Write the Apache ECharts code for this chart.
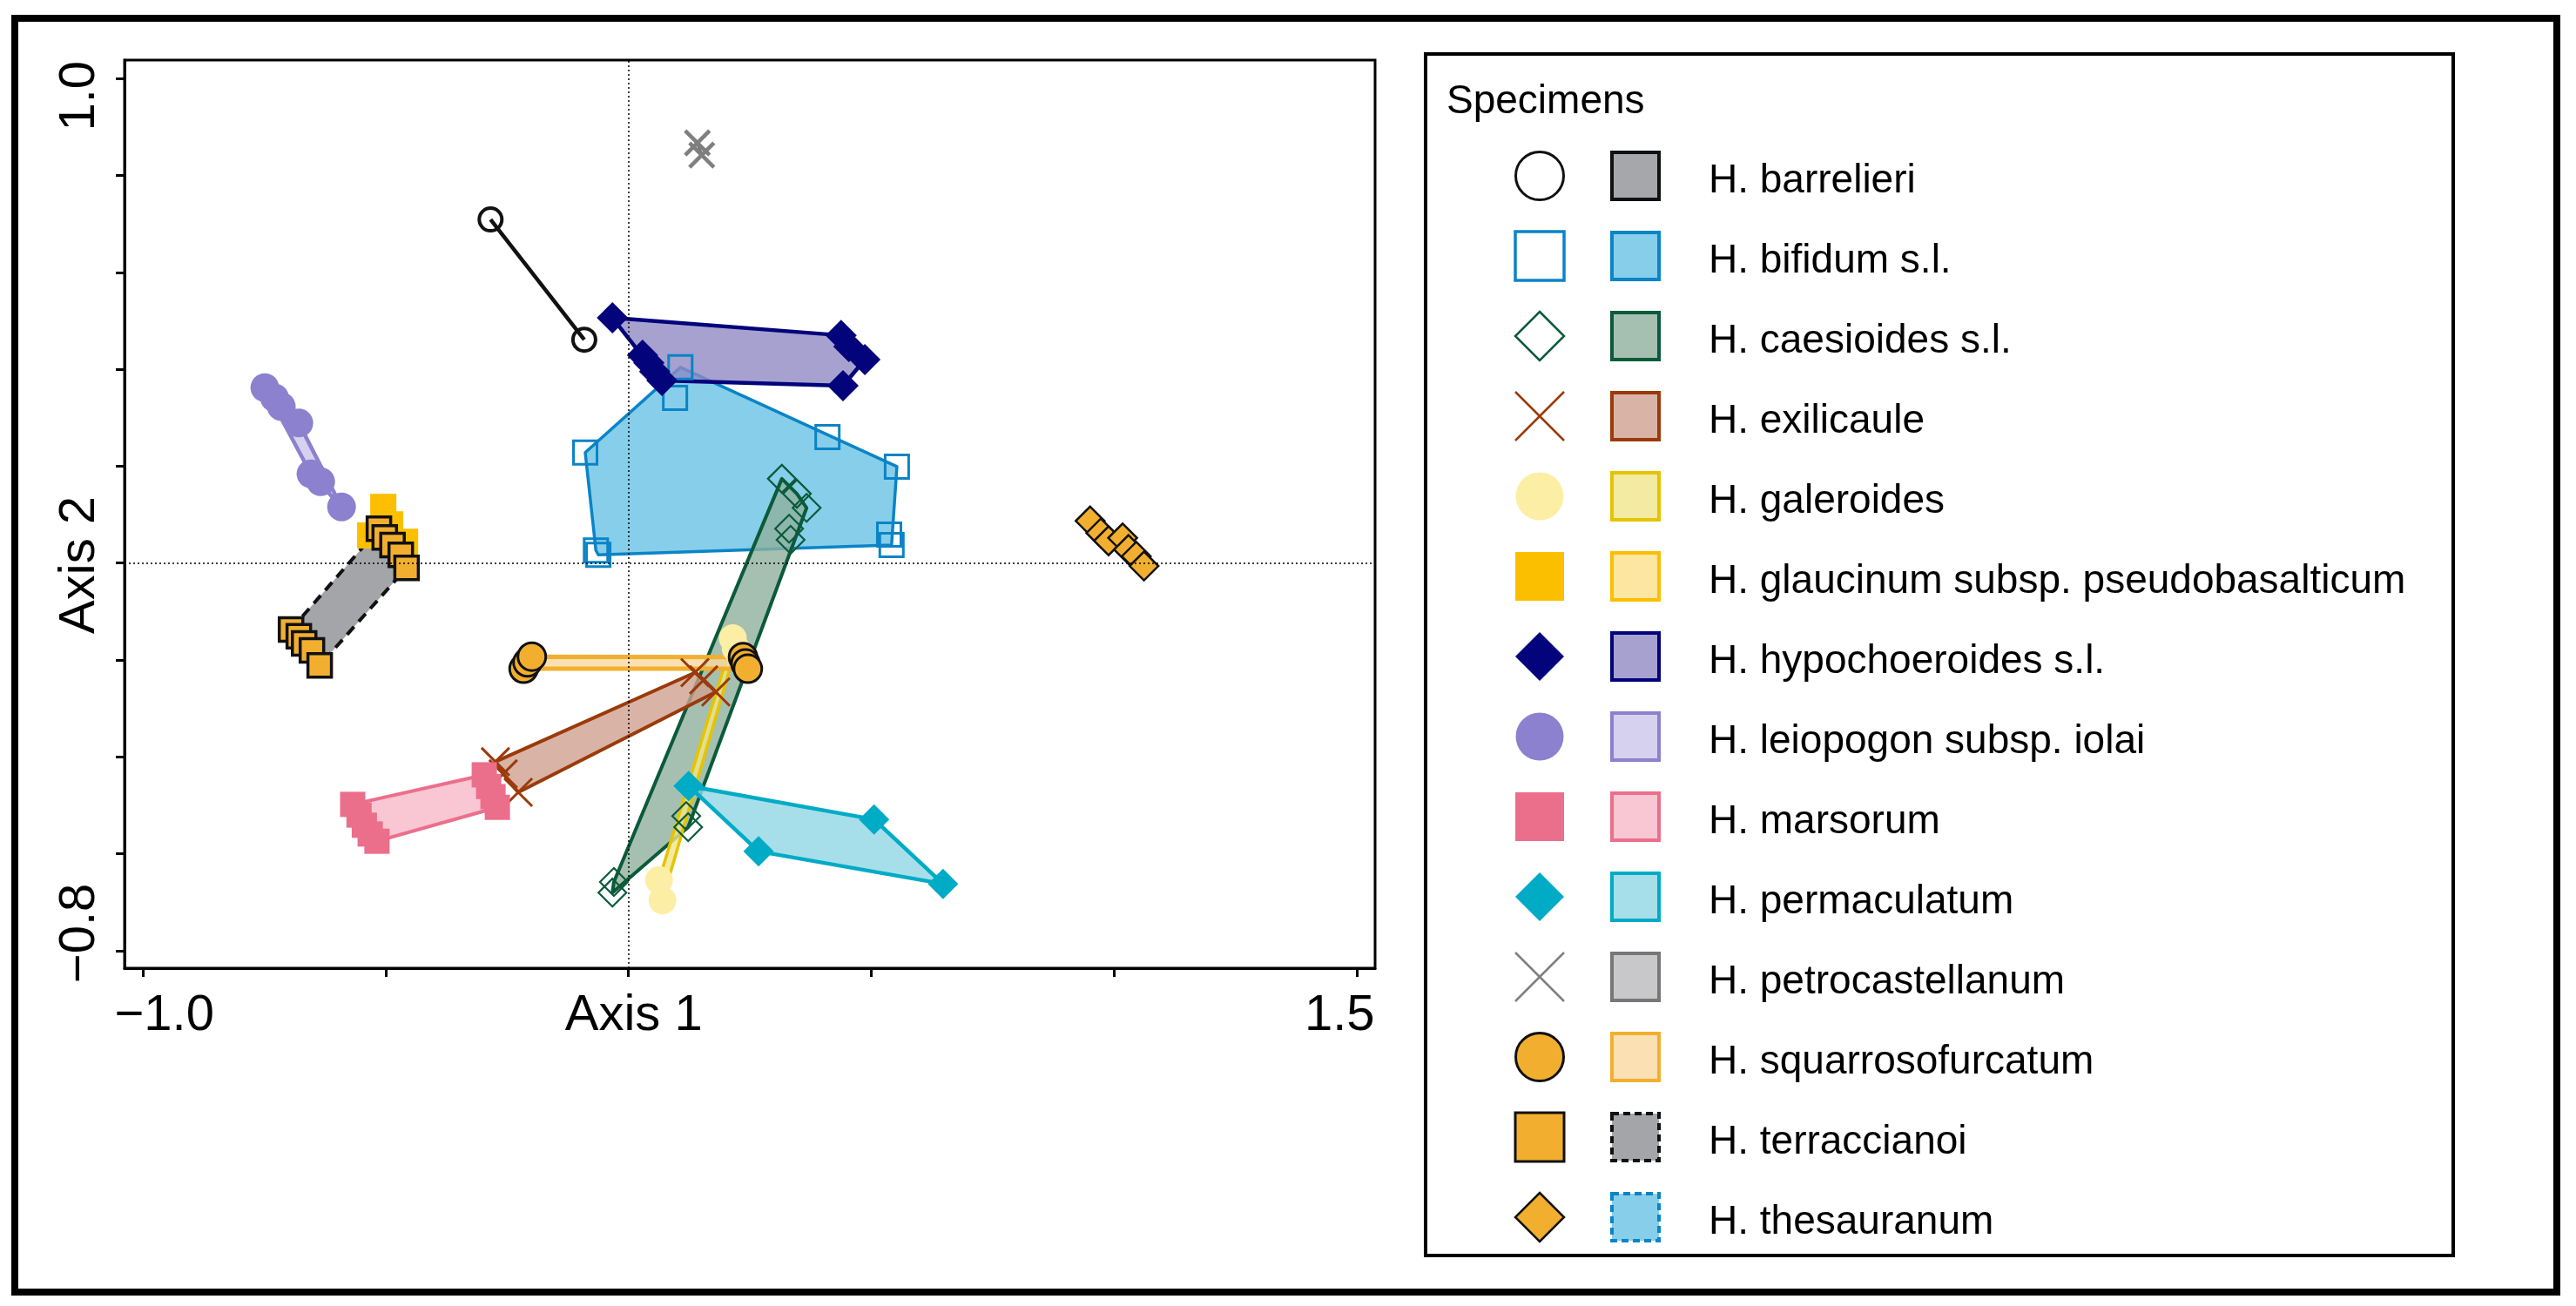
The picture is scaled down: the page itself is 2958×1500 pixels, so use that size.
<!DOCTYPE html>
<html>
<head>
<meta charset="utf-8">
<title>Specimens ordination</title>
<script src="https://cdn.jsdelivr.net/npm/echarts@6/dist/echarts.min.js"></script>
<style>html,body{margin:0;padding:0;background:#fff;}</style>
</head>
<body>
<div id="main" style="width:2958px;height:1500px;"></div>
<script type="text/javascript">
var FONT = "'Liberation Sans', Arial, sans-serif";

var species = ['H. barrelieri', 'H. bifidum s.l.', 'H. caesioides s.l.', 'H. exilicaule', 'H. galeroides',
  'H. glaucinum subsp. pseudobasalticum', 'H. hypochoeroides s.l.', 'H. leiopogon subsp. iolai', 'H. marsorum',
  'H. permaculatum', 'H. petrocastellanum', 'H. squarrosofurcatum', 'H. terraccianoi', 'H. thesauranum'];

// specimen scores [Axis 1, Axis 2]
var barrelieri = [[-0.284, 0.709], [-0.091, 0.461]];
var bifidum = [[-0.089, 0.228], [-0.067, 0.026], [-0.062, 0.017], [0.107, 0.404], [0.096, 0.341],
  [0.410, 0.260], [0.553, 0.199], [0.537, 0.059], [0.542, 0.037]];
var caesioides = [[0.316, 0.174], [0.347, 0.143], [0.367, 0.114], [0.331, 0.071], [0.334, 0.048],
  [0.119, -0.522], [0.123, -0.545], [-0.030, -0.658], [-0.033, -0.680]];
var exilicaule = [[0.137, -0.226], [0.155, -0.241], [0.180, -0.266], [-0.274, -0.410], [-0.258, -0.435], [-0.227, -0.473]];
var galeroides = [[0.215, -0.155], [0.221, -0.176], [0.063, -0.654], [0.070, -0.696]];
var glaucinum = [[-0.505, 0.116], [-0.532, 0.057], [-0.460, 0.044], [-0.491, 0.080]];
var hypochoeroides = [[-0.033, 0.506], [0.029, 0.429], [0.042, 0.413], [0.054, 0.395], [0.069, 0.377],
  [0.438, 0.470], [0.454, 0.447], [0.487, 0.420], [0.442, 0.366]];
var leiopogon = [[-0.749, 0.362], [-0.729, 0.341], [-0.715, 0.323], [-0.679, 0.289], [-0.654, 0.184],
  [-0.634, 0.168], [-0.591, 0.116]];
var marsorum = [[-0.568, -0.498], [-0.555, -0.520], [-0.544, -0.541], [-0.532, -0.559], [-0.518, -0.574],
  [-0.297, -0.437], [-0.288, -0.461], [-0.279, -0.482], [-0.270, -0.504]];
var permaculatum = [[0.124, -0.460], [0.506, -0.529], [0.268, -0.595], [0.648, -0.662]];
var petrocastellanum = [[0.142, 0.867], [0.151, 0.842]];
var squarrosofurcatum = [[-0.216, -0.218], [-0.208, -0.205], [-0.199, -0.193], [0.236, -0.194], [0.241, -0.207], [0.246, -0.218]];
var terraccianoi = [[-0.514, 0.071], [-0.502, 0.053], [-0.486, 0.037], [-0.469, 0.017], [-0.457, -0.010],
  [-0.695, -0.137], [-0.679, -0.151], [-0.668, -0.166], [-0.652, -0.180], [-0.636, -0.211]];
var thesauranum = [[0.951, 0.087], [0.973, 0.062], [0.989, 0.046], [1.018, 0.052], [1.030, 0.028], [1.046, 0.014], [1.062, -0.006]];

var scores = [barrelieri, bifidum, caesioides, exilicaule, galeroides, glaucinum, hypochoeroides,
  leiopogon, marsorum, permaculatum, petrocastellanum, squarrosofurcatum, terraccianoi, thesauranum];

// axis ticks and labels
var xTicks = [-1.0, -0.5, 0, 0.5, 1.0, 1.5];
var yTicks = [1.0, 0.8, 0.6, 0.4, 0.2, 0, -0.2, -0.4, -0.6, -0.8];
var xLabels = ['\u22121.0', 'Axis 1', '1.5'];
var xLabelAt = [-0.956, 0.011, 1.465];
var yLabels = ['1.0', 'Axis 2', '\u22120.8'];
var yLabelAt = [0.964, -0.004, -0.764];

// look of each species: point symbol, point fill/edge, hull fill/edge
var looks = [
  {sym: 'circle', fill: null, edge: '#111111', ew: 4, size: 26, lw: 3, hull: '#a5a7aa', hedge: '#111111', hw: 4.5},
  {sym: 'rect', fill: null, edge: '#0a84c6', ew: 3, size: 27, lw: 3.5, hull: '#87ceea', hedge: '#0a84c6'},
  {sym: 'diamond', fill: null, edge: '#0b5a3a', ew: 2.2, size: 32, lw: 2.5, hull: '#a5c0b1', hedge: '#0b5a3a', hw: 4},
  {sym: 'x', fill: null, edge: '#9b3a0a', ew: 3, size: 32, lw: 2.5, hull: '#d9b4a6', hedge: '#9b3a0a', hw: 4},
  {sym: 'circle', fill: '#fdeea5', edge: null, ew: 0, size: 32, lw: 0, hull: '#f3eba1', hedge: '#e6c300'},
  {sym: 'rect', fill: '#fbbf00', edge: null, ew: 0, size: 30, lw: 0, hull: '#fde6a0', hedge: '#fbbf00'},
  {sym: 'diamond', fill: '#03037b', edge: null, ew: 0, size: 36, lw: 0, hull: '#a6a1cf', hedge: '#03037b', hw: 4.5},
  {sym: 'circle', fill: '#8c81ce', edge: null, ew: 0, size: 33, lw: 0, hull: '#d6d1ee', hedge: '#8c81ce', hw: 4.5},
  {sym: 'rect', fill: '#eb6f8b', edge: null, ew: 0, size: 29, lw: 0, hull: '#f9c6d3', hedge: '#eb6f8b', hw: 4},
  {sym: 'diamond', fill: '#00abc6', edge: null, ew: 0, size: 35, lw: 0, hull: '#a6dfea', hedge: '#00abc6', hw: 4.5},
  {sym: 'x', fill: null, edge: '#7f7f7f', ew: 4.5, size: 28, lw: 2.5, hull: '#c8c8ca', hedge: '#777777'},
  {sym: 'circle', fill: '#f2af2f', edge: '#111111', ew: 3, size: 32, lw: 3, hull: '#fbe0b3', hedge: '#f2af2f', hw: 5},
  {sym: 'rect', fill: '#f2af2f', edge: '#111111', ew: 3.5, size: 27, lw: 3, hull: '#a3a5a8', hedge: '#111111', dash: true, hw: 4},
  {sym: 'diamond', fill: '#f2af2f', edge: '#111111', ew: 2.5, size: 33, lw: 2.5, hull: '#87ceea', hedge: '#0a84c6', dash: true}
];

var XPATH = 'path://M0,0L10,10M10,0L0,10';

function seeThrough(hex, a) {
  // base colour that gives `hex` when laid with alpha a over white
  var n = parseInt(hex.slice(1), 16);
  var c = [(n >> 16) & 255, (n >> 8) & 255, n & 255].map(function (v) {
    return Math.max(0, Math.round((v - 255 * (1 - a)) / a));
  });
  return 'rgba(' + c.join(',') + ',' + a + ')';
}

function convexHull(pts) {
  var p = pts.slice().sort(function (a, b) { return a[0] - b[0] || a[1] - b[1]; });
  if (p.length < 3) return p;
  function cross(o, a, b) { return (a[0] - o[0]) * (b[1] - o[1]) - (a[1] - o[1]) * (b[0] - o[0]); }
  var lower = [], upper = [];
  p.forEach(function (q) {
    while (lower.length >= 2 && cross(lower[lower.length - 2], lower[lower.length - 1], q) <= 0) lower.pop();
    lower.push(q);
  });
  for (var i = p.length - 1; i >= 0; i--) {
    var q = p[i];
    while (upper.length >= 2 && cross(upper[upper.length - 2], upper[upper.length - 1], q) <= 0) upper.pop();
    upper.push(q);
  }
  lower.pop(); upper.pop();
  return lower.concat(upper);
}

function nearestLabel(v, at, texts) {
  var best = 0;
  for (var i = 1; i < at.length; i++) if (Math.abs(at[i] - v) < Math.abs(at[best] - v)) best = i;
  return texts[best];
}

var series = [];

// hulls first
scores.forEach(function (pts, i) {
  var lk = looks[i];
  var hull = convexHull(pts);
  series.push({
    type: 'custom',
    name: species[i] + ' hull',
    silent: true,
    z: 2,
    data: hull,
    renderItem: function (params, api) {
      if (params.dataIndex !== 0) return;
      var pix = hull.map(function (p) { return api.coord(p); });
      return {
        type: pix.length > 2 ? 'polygon' : 'polyline',
        shape: {points: pix},
        style: {
          fill: pix.length > 2 ? seeThrough(lk.hull, 0.8) : 'none',
          stroke: lk.hedge,
          lineWidth: lk.hw || 3.5,
          lineDash: lk.dash ? [12, 8] : null,
          lineJoin: 'round'
        }
      };
    }
  });
});

// then the specimen points
scores.forEach(function (pts, i) {
  var lk = looks[i];
  series.push({
    type: 'scatter',
    name: species[i],
    z: 3,
    symbol: lk.sym === 'x' ? XPATH : lk.sym,
    symbolSize: lk.size,
    data: pts,
    itemStyle: {
      color: lk.fill || 'rgba(0,0,0,0)',
      borderColor: lk.edge || lk.fill,
      borderWidth: lk.ew,
      opacity: 1
    }
  });
});

// dotted zero lines
series.push({
  type: 'scatter',
  name: 'origin',
  data: [],
  z: 1,
  markLine: {
    silent: true,
    symbol: 'none',
    label: {show: false},
    lineStyle: {color: '#000', type: [2, 3], width: 1.5},
    data: [{xAxis: 0}, {yAxis: 0}]
  }
});

// legend drawn from the species list
var graphics = [
  {type: 'rect', shape: {x: 17, y: 21, width: 2919, height: 1463}, style: {fill: 'none', stroke: '#000', lineWidth: 8}},
  {type: 'rect', shape: {x: 1637, y: 62, width: 1180, height: 1380}, style: {fill: 'none', stroke: '#000', lineWidth: 4}},
  {type: 'text', x: 1661, y: 117, style: {text: 'Specimens', fontSize: 46, fontFamily: FONT, fill: '#000', verticalAlign: 'middle'}}
];
species.forEach(function (name, i) {
  var lk = looks[i];
  var cy = 202 + 92 * i, cx = 1768, h = 28;
  var st = {fill: lk.fill || 'none', stroke: lk.edge || null, lineWidth: lk.lw};
  if (lk.sym === 'circle') {
    graphics.push({type: 'circle', shape: {cx: cx, cy: cy, r: 27.5}, style: st});
  } else if (lk.sym === 'rect') {
    graphics.push({type: 'rect', shape: {x: cx - h, y: cy - h, width: 2 * h, height: 2 * h}, style: st});
  } else if (lk.sym === 'diamond') {
    graphics.push({type: 'polygon', shape: {points: [[cx, cy - h], [cx + h, cy], [cx, cy + h], [cx - h, cy]]}, style: st});
  } else {
    graphics.push({type: 'line', shape: {x1: cx - h, y1: cy - h, x2: cx + h, y2: cy + h}, style: {stroke: lk.edge, lineWidth: lk.lw}});
    graphics.push({type: 'line', shape: {x1: cx + h, y1: cy - h, x2: cx - h, y2: cy + h}, style: {stroke: lk.edge, lineWidth: lk.lw}});
  }
  graphics.push({type: 'rect', shape: {x: 1851, y: cy - 27, width: 54, height: 54},
    style: {fill: lk.hull, stroke: lk.hedge, lineWidth: 4, lineDash: lk.dash ? [8, 5] : null}});
  graphics.push({type: 'text', x: 1962, y: cy + 6,
    style: {text: name, fontSize: 46, fontFamily: FONT, fill: '#000', verticalAlign: 'middle'}});
});

var mychart = echarts.init(document.getElementById('main'));
var option = {
  animation: false,
  backgroundColor: '#fff',
  grid: {left: 143, top: 69, width: 1436, height: 1043, show: true, borderColor: '#000', borderWidth: 3},
  xAxis: {
    type: 'value', min: -1.038, max: 1.538,
    splitLine: {show: false},
    axisLine: {show: true, onZero: false, lineStyle: {color: '#000', width: 3}},
    axisTick: {show: true, length: 10, customValues: xTicks, lineStyle: {color: '#000', width: 3}},
    axisLabel: {
      customValues: xLabelAt, color: '#000', fontSize: 58, fontFamily: FONT, margin: 26,
      formatter: function (v) { return nearestLabel(v, xLabelAt, xLabels); }
    }
  },
  yAxis: {
    type: 'value', min: -0.836, max: 1.038,
    splitLine: {show: false},
    axisLine: {show: true, onZero: false, lineStyle: {color: '#000', width: 3}},
    axisTick: {show: true, length: 10, customValues: yTicks, lineStyle: {color: '#000', width: 3}},
    axisLabel: {
      customValues: yLabelAt, rotate: 90, color: '#000', fontSize: 58, fontFamily: FONT, margin: 22,
      formatter: function (v) { return nearestLabel(v, yLabelAt, yLabels); }
    }
  },
  graphic: graphics,
  series: series
};
mychart.setOption(option);
</script>
</body>
</html>
